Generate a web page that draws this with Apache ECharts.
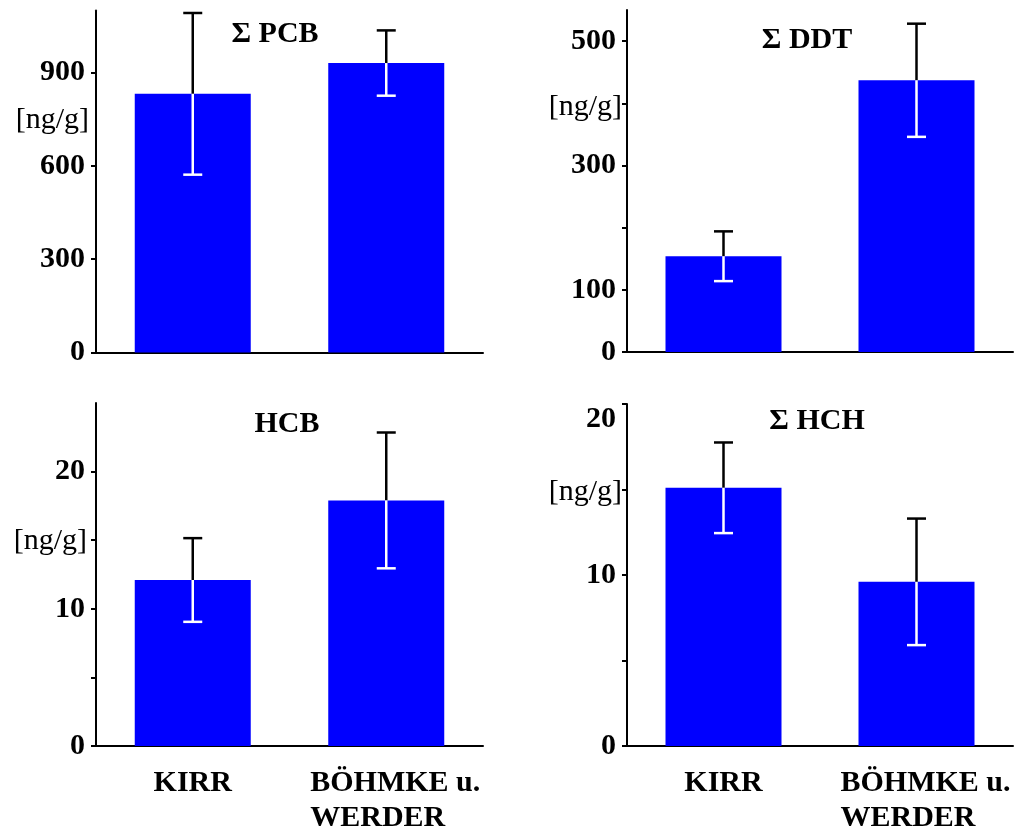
<!DOCTYPE html>
<html>
<head>
<meta charset="utf-8">
<script src="https://cdn.jsdelivr.net/npm/echarts@6/dist/echarts.min.js"></script>
<style>
html,body{margin:0;padding:0;background:#fff;}
#c{width:1023px;height:834px;}
</style>
</head>
<body>
<div id="c"></div>
<script>
// ---- data ----
const categories = ['KIRR', 'BÖHMKE u.\nWERDER'];

const pcbMean = [832, 931];
const pcbErr  = [260, 105];
const ddtMean = [154, 437];
const ddtErr  = [40, 91];
const hcbMean = [12.1, 17.9];
const hcbErr  = [3.05, 4.95];
const hchMean = [15.1, 9.6];
const hchErr  = [2.65, 3.7];

const pcbTicks = [0, 300, 600, 900];
const pcbLabels = [0, 300, 600, 900];
const ddtTicks = [0, 100, 200, 300, 400, 500];
const ddtLabels = [0, 100, 300, 500];
const hcbTicks = [0, 5, 10, 15, 20];
const hcbLabels = [0, 10, 20];
const hchTicks = [0, 5, 10, 15, 20];
const hchLabels = [0, 10, 20];

const panelTitles = ['Σ PCB', 'Σ DDT', 'HCB', 'Σ HCH'];
const unitLabel = '[ng/g]';

// ---- chart ----
const FONT = 'Liberation Serif';
const chart = echarts.init(document.getElementById('c'), null, {renderer: 'canvas'});

const grids = [
  {left: 96, top: 10.5, width: 387, height: 342},
  {left: 627, top: 10, width: 386, height: 342},
  {left: 96, top: 403, width: 387, height: 343},
  {left: 627, top: 404, width: 386, height: 342}
];

const yMax = [1100, 550, 25, 20];
const yTicks = [pcbTicks, ddtTicks, hcbTicks, hchTicks];
const yLabels = [pcbLabels, ddtLabels, hcbLabels, hchLabels];

function xAxis(i, showLabels) {
  return {
    type: 'category', gridIndex: i, data: categories,
    axisLine: {lineStyle: {color: '#000', width: 2}},
    axisTick: {show: false},
    axisLabel: {
      show: showLabels,
      interval: 0,
      margin: 20,
      formatter: function (v) {
        const parts = v.split('\n');
        return parts.map(p => '{a|' + p + '}').join('\n');
      },
      rich: {
        a: {fontFamily: FONT, fontWeight: 'bold', fontSize: 30, color: '#000', lineHeight: 35}
      }
    }
  };
}
function xAxisBottom(i) {
  const ax = xAxis(i, true);
  ax.data = [
    {value: categories[0]},
    {value: categories[1]}
  ];
  ax.axisLabel.formatter = function (v) {
    const parts = v.split('\n');
    if (parts.length === 1) return '{a|' + parts[0] + '}';
    return parts.map(p => '{b|' + p + '}').join('\n');
  };
  ax.axisLabel.rich.b = {fontFamily: FONT, fontWeight: 'bold', fontSize: 30, color: '#000',
    lineHeight: 35, width: 170, align: 'left', padding: [0, 0, 0, 18]};
  return ax;
}

function yAxis(i) {
  return {
    type: 'value', gridIndex: i, min: 0, max: yMax[i],
    splitLine: {show: false},
    axisLine: {show: true, lineStyle: {color: '#000', width: 2}},
    axisTick: {show: true, length: 5, lineStyle: {color: '#000', width: 2}, customValues: yTicks[i]},
    axisLabel: {
      customValues: yLabels[i],
      margin: 11,
      fontFamily: FONT, fontWeight: 'bold', fontSize: 30, color: '#000',
      verticalAlignMaxLabel: i === 3 ? 'top' : null
    }
  };
}

function errRender(params, api) {
  const idx = api.value(0);
  const m = api.value(1);
  const e = api.value(2);
  const pTop = api.coord([idx, m + e]);
  const pMid = api.coord([idx, m]);
  const pBot = api.coord([idx, m - e]);
  const x = pMid[0];
  const hw = 9.5;
  const lw = 2.5;
  return {
    type: 'group',
    children: [
      {type: 'line', shape: {x1: x, y1: pTop[1], x2: x, y2: pMid[1]}, style: {stroke: '#000', lineWidth: lw}},
      {type: 'line', shape: {x1: x - hw, y1: pTop[1], x2: x + hw, y2: pTop[1]}, style: {stroke: '#000', lineWidth: lw}},
      {type: 'line', shape: {x1: x, y1: pMid[1], x2: x, y2: pBot[1]}, style: {stroke: '#fff', lineWidth: lw}},
      {type: 'line', shape: {x1: x - hw, y1: pBot[1], x2: x + hw, y2: pBot[1]}, style: {stroke: '#fff', lineWidth: lw}}
    ]
  };
}

const means = [pcbMean, ddtMean, hcbMean, hchMean];
const errs = [pcbErr, ddtErr, hcbErr, hchErr];

const series = [];
for (let i = 0; i < 4; i++) {
  series.push({
    type: 'bar', xAxisIndex: i, yAxisIndex: i,
    data: means[i], barWidth: 116,
    itemStyle: {color: '#0000ff'},
    silent: true, animation: false
  });
  series.push({
    type: 'custom', xAxisIndex: i, yAxisIndex: i,
    data: means[i].map((m, k) => [k, m, errs[i][k]]),
    encode: {x: 0, y: 1},
    renderItem: errRender,
    z: 10, silent: true, animation: false
  });
}

const titlePos = [[275, 34], [807, 40], [287, 424], [817, 421]];
const unitPos = [[89, 120], [622, 107], [87, 541], [622, 492]];
const graphic = [];
for (let i = 0; i < 4; i++) {
  graphic.push({
    type: 'text', x: titlePos[i][0], y: titlePos[i][1], z: 100,
    style: {text: panelTitles[i], fontFamily: FONT, fontWeight: 'bold', fontSize: 30,
      fill: '#000', align: 'center', verticalAlign: 'middle'}
  });
  graphic.push({
    type: 'text', x: unitPos[i][0], y: unitPos[i][1], z: 100,
    style: {text: unitLabel, fontFamily: FONT, fontSize: 30,
      fill: '#000', align: 'right', verticalAlign: 'middle'}
  });
}

chart.setOption({
  animation: false,
  backgroundColor: '#fff',
  grid: grids,
  xAxis: [xAxis(0, false), xAxis(1, false), xAxisBottom(2), xAxisBottom(3)],
  yAxis: [yAxis(0), yAxis(1), yAxis(2), yAxis(3)],
  series: series,
  graphic: graphic
});
</script>
</body>
</html>
